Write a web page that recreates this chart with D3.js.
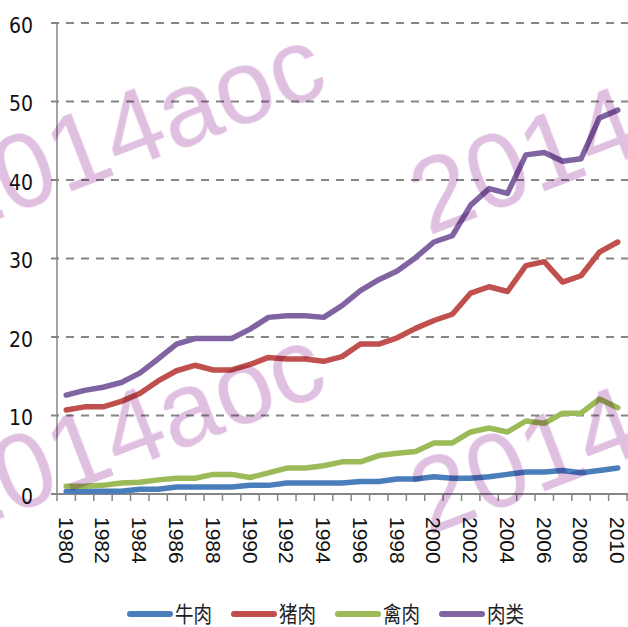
<html lang="zh">
<head>
<meta charset="utf-8">
<style>
body { margin: 0; background: #fff; }
svg { display: block; }
.ylab { font-family: "Liberation Sans Narrow", "DejaVu Sans Condensed", sans-serif; font-size: 21px; fill: #111; }
.xlab { font-family: "Liberation Sans", Arial, sans-serif; font-size: 21px; fill: #111; }
.leg { font-family: "Noto Sans CJK SC", sans-serif; font-size: 22px; fill: #222; }
.wm { font-family: "Liberation Sans", Arial, sans-serif; font-size: 105px; fill: #e0c0e0; }
</style>
</head>
<body>
</body>
<script type='text/javascript' src='https://d3js.org/d3.v7.min.js'></script>
<script>
var width = 628, height = 627;

// categories
const years = [1980,1981,1982,1983,1984,1985,1986,1987,1988,1989,1990,
  1991,1992,1993,1994,1995,1996,1997,1998,1999,2000,
  2001,2002,2003,2004,2005,2006,2007,2008,2009,2010];
const yearLabels = [1980,1982,1984,1986,1988,1990,1992,1994,1996,1998,2000,2002,2004,2006,2008,2010];
const yTicks = [0,10,20,30,40,50,60];

// series values
const beef = [0.35,0.35,0.35,0.35,0.6,0.6,0.9,0.9,0.9,0.9,1.1,
  1.1,1.4,1.4,1.4,1.4,1.6,1.6,1.9,1.9,2.2,
  2.0,2.0,2.2,2.5,2.8,2.8,3.0,2.7,3.0,3.3];
const pork = [10.7,11.1,11.1,11.8,12.8,14.4,15.7,16.4,15.8,15.8,16.5,
  17.4,17.2,17.2,16.9,17.5,19.1,19.1,19.9,21.1,22.1,
  22.9,25.6,26.4,25.8,29.1,29.6,27.0,27.8,30.8,32.1];
const poultry = [1.0,1.0,1.1,1.4,1.5,1.8,2.0,2.0,2.5,2.5,2.1,
  2.7,3.3,3.3,3.6,4.1,4.1,4.9,5.2,5.4,6.5,
  6.5,7.9,8.4,7.9,9.3,9.0,10.3,10.3,12.1,11.0];
const meat = [12.6,13.2,13.6,14.2,15.4,17.2,19.1,19.8,19.8,19.8,21.0,
  22.5,22.7,22.7,22.5,24.0,25.9,27.3,28.4,30.1,32.1,
  32.9,36.8,38.9,38.3,43.2,43.5,42.4,42.7,47.9,48.9];

const seriesNames = ['牛肉','猪肉','禽肉','肉类'];
const seriesColors = ['#4a7ebb','#c0504d','#9bbb59','#8064a2'];
const seriesData = [beef, pork, poultry, meat];

// setup svg
var svg = d3.select('body').append('svg').attr('width',width).attr('height',height);

var x = d3.scaleBand().domain(years).range([57, 627]).padding(0);
var y = d3.scaleLinear().domain([0, 60]).range([494, 23]);
var cx = function(d){ return x(d) + x.bandwidth()/2; };

// grid + y labels
var yAxis = svg.append('g').attr('transform','translate(57,0)')
  .call(d3.axisLeft(y).tickValues(yTicks).tickSize(0).tickPadding(24));
yAxis.select('.domain').remove();
yAxis.selectAll('text').attr('class','ylab').attr('dy','0.45em');

svg.append('g').selectAll('line')
  .data(yTicks.filter(function(t){ return t > 0; }))
  .join('line')
  .attr('x1', 51).attr('x2', width)
  .attr('y1', function(d){ return y(d); }).attr('y2', function(d){ return y(d); })
  .attr('stroke','#868686').attr('stroke-width',2)
  .attr('stroke-dasharray','8,7');

// y axis line
svg.append('line').attr('x1',57).attr('x2',57).attr('y1',y(60)).attr('y2',y(0))
  .attr('stroke','#868686').attr('stroke-width',1.5);

// x axis line + boundary ticks
svg.append('line').attr('x1',51).attr('x2',width).attr('y1',y(0)).attr('y2',y(0))
  .attr('stroke','#868686').attr('stroke-width',2);
var bounds = years.map(function(d){ return x(d); }).concat([x.range()[1]]);
svg.append('g').selectAll('line').data(bounds).join('line')
  .attr('x1', function(d){ return d; }).attr('x2', function(d){ return d; })
  .attr('y1', y(0)).attr('y2', y(0) + 7)
  .attr('stroke','#868686').attr('stroke-width',1.5);

// x labels
svg.append('g').selectAll('text').data(yearLabels).join('text')
  .attr('class','xlab')
  .attr('transform', function(d){ return 'translate(' + cx(d) + ',517) rotate(90)'; })
  .attr('dy','0.36em')
  .text(function(d){ return d; });

// lines
var line = d3.line()
  .x(function(d, i){ return cx(years[i]); })
  .y(function(d){ return y(d); });

svg.append('g').selectAll('path').data(seriesData).join('path')
  .attr('d', line)
  .attr('fill','none')
  .attr('stroke', function(d, i){ return seriesColors[i]; })
  .attr('stroke-width', 5.5)
  .attr('stroke-linejoin','round')
  .attr('stroke-linecap','round');

// legend
var leg = svg.append('g').selectAll('g').data(seriesNames).join('g')
  .attr('transform', function(d, i){ return 'translate(' + (130 + i*104) + ',614)'; });
leg.append('line').attr('x1',0).attr('x2',40).attr('y1',0).attr('y2',0)
  .attr('stroke', function(d, i){ return seriesColors[i]; })
  .attr('stroke-width',6).attr('stroke-linecap','round');
leg.append('text').attr('class','leg')
  .attr('x',45)
  .attr('dy','0.36em')
  .attr('textLength',37).attr('lengthAdjust','spacingAndGlyphs')
  .text(function(d){ return d; });

// watermark
var wm = svg.append('g').style('mix-blend-mode','multiply');
[[-45,236,'2014aoc'],[-45,536,'2014aoc'],[428,236,'2014aoc'],[428,536,'2014aoc']].forEach(function(p){
  wm.append('text').attr('class','wm')
    .attr('transform','translate(' + p[0] + ',' + p[1] + ') rotate(-21)')
    .text(p[2]);
});

console.log('ready..');
</script>
</html>
